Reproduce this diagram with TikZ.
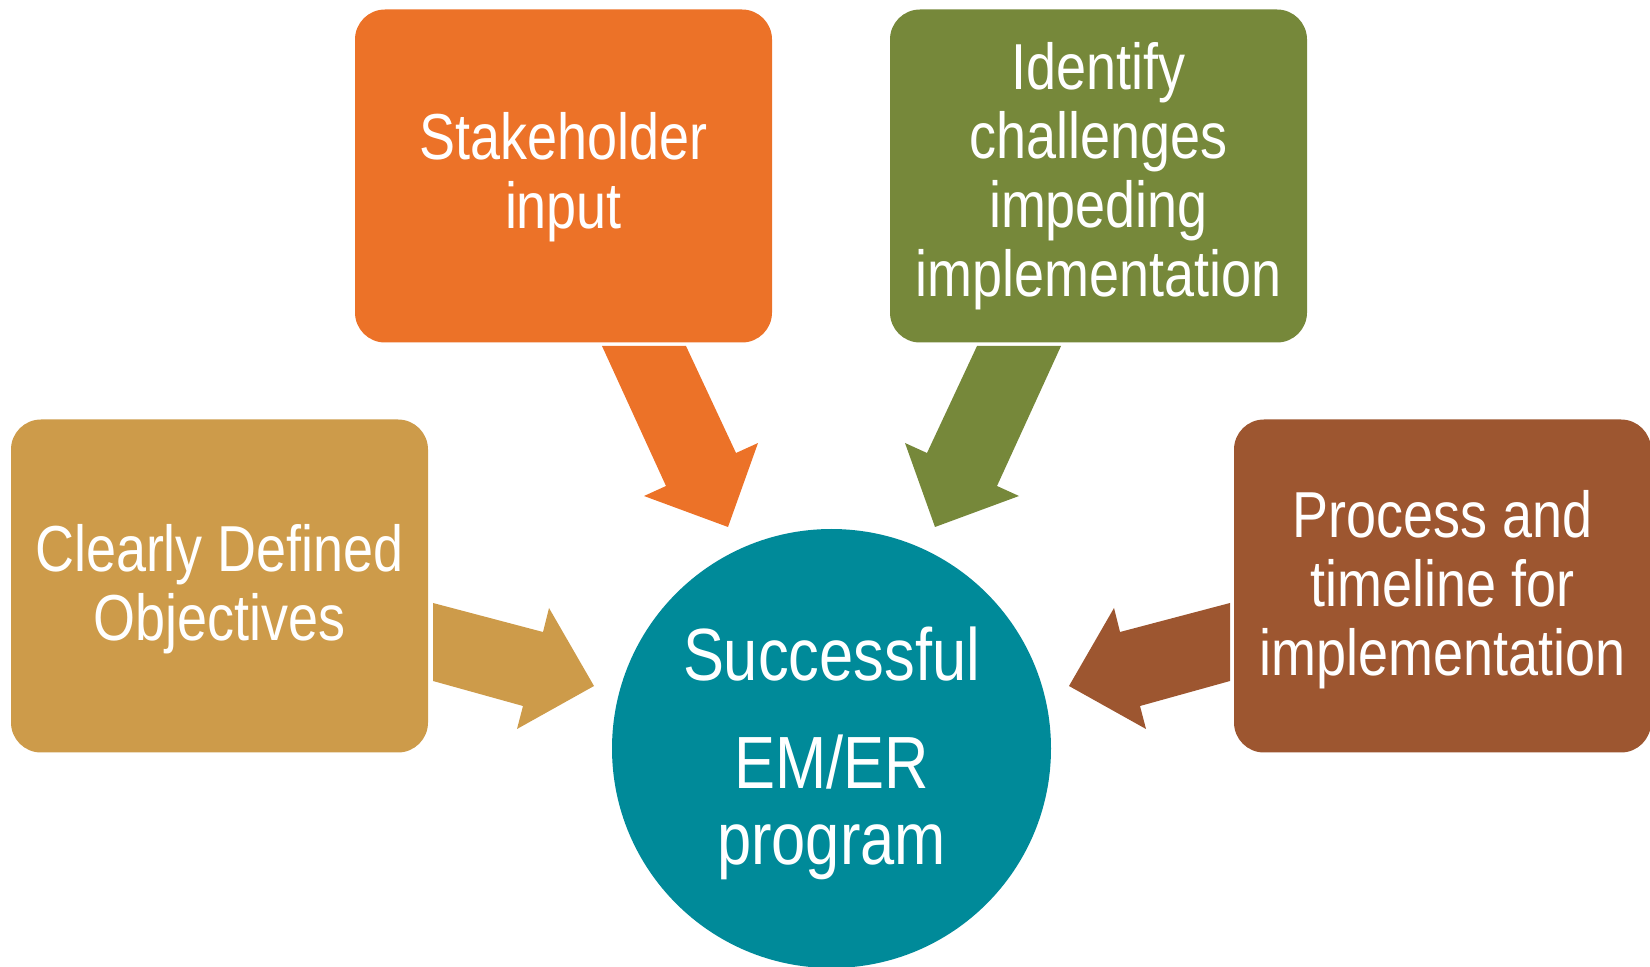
\documentclass[tikz,border=0pt]{standalone}
\usepackage{fontspec}
\newfontfamily\nar[FakeStretch=0.83]{Liberation Sans}
\definecolor{cOrange}{RGB}{236,114,40}
\definecolor{cGreen}{RGB}{118,136,58}
\definecolor{cTan}{RGB}{205,155,74}
\definecolor{cBrown}{RGB}{157,86,48}
\definecolor{cTeal}{RGB}{0,138,153}
\tikzset{
  box/.style={rectangle, rounded corners=15pt, minimum width=208.5pt, minimum height=166.5pt,
    inner sep=0pt, align=center, text=white, font=\nar\fontsize{32.5}{34.5}\selectfont},
  hub/.style={circle, minimum size=219.5pt, inner sep=0pt, align=center, text=white,
    fill=cTeal, font=\nar\fontsize{37}{38}\selectfont}
}
\begin{document}
\begin{tikzpicture}[x=0.5pt,y=-0.5pt]
\useasboundingbox (0,0) rectangle (1650,967);
% block arrows
\fill[cOrange] (602,346) -- (686,346) -- (736,453) -- (758,443) -- (728,527) -- (644,496) -- (666,486) -- cycle;
\fill[cGreen] (1061,346) -- (977,346) -- (927,453) -- (905,443) -- (935,527) -- (1019,496) -- (997,486) -- cycle;
\fill[cTan] (433,603) -- (543,632) -- (549,608) -- (594,686) -- (517,729) -- (523,706) -- (433,681) -- cycle;
\fill[cBrown] (1230,603) -- (1120,632) -- (1114,608) -- (1069,686) -- (1146,729) -- (1140,706) -- (1230,681) -- cycle;
% boxes
\node[box, fill=cOrange] (stake) at (563.5,176) {\rule{0pt}{25pt}Stakeholder\\input};
\node[box, fill=cGreen] (ident) at (1098.5,176) {Identify\\challenges\\impeding\\implementation};
\node[box, fill=cTan] (clear) at (219.5,586) {\rule{0pt}{27pt}Clearly Defined\\Objectives};
\node[box, fill=cBrown] (proc) at (1442.5,586) {\rule{0pt}{27pt}Process and\\timeline for\\implementation};
% hub
\node[hub] (hub) at (831.5,748.5) {\rule{0pt}{32pt}Successful\\[16pt]EM/ER\\program};
\end{tikzpicture}
\end{document}
